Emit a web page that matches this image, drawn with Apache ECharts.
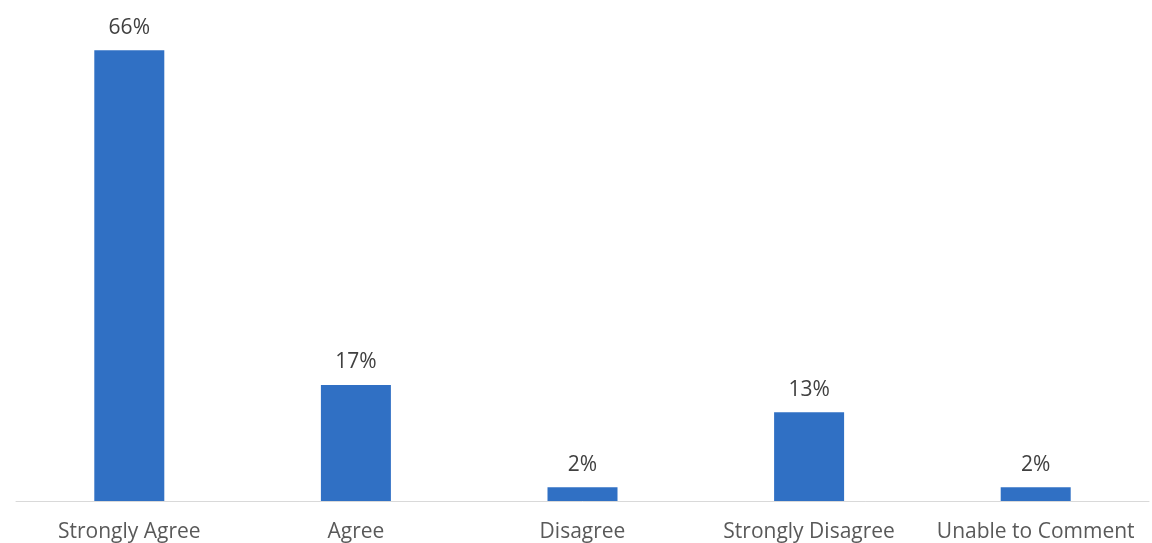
<!DOCTYPE html>
<html><head><meta charset="utf-8">
<script src="https://cdn.jsdelivr.net/npm/echarts@6/dist/echarts.min.js"></script>
<style>html,body{margin:0;padding:0;background:#fff}#c{width:1152px;height:543px}</style>
</head><body><div id="c"></div>
<script>
const categories = ["Strongly Agree", "Agree", "Disagree", "Strongly Disagree", "Unable to Comment"];
const values = [66, 17, 2, 13, 2];

const chart = echarts.init(document.getElementById('c'), null, {renderer: 'canvas'});
chart.setOption({
  animation: false,
  grid: {left: 16, right: 3, top: 23, bottom: 42},
  xAxis: {
    type: 'category', data: categories,
    axisLine: {lineStyle: {color: '#D9D9D9', width: 1}},
    axisTick: {show: false},
    axisLabel: {color: '#595959', fontFamily: 'Open Sans', fontSize: 21, margin: 21, interval: 0}
  },
  yAxis: {type: 'value', min: 0, max: 70, show: false, splitLine: {show: false}},
  series: [{
    type: 'bar', data: values, barWidth: 70,
    itemStyle: {color: '#3070C4'},
    label: {show: true, position: 'top', distance: 12, formatter: '{c}%', color: '#404040', fontFamily: 'Open Sans', fontSize: 21}
  }]
});
</script></body></html>
